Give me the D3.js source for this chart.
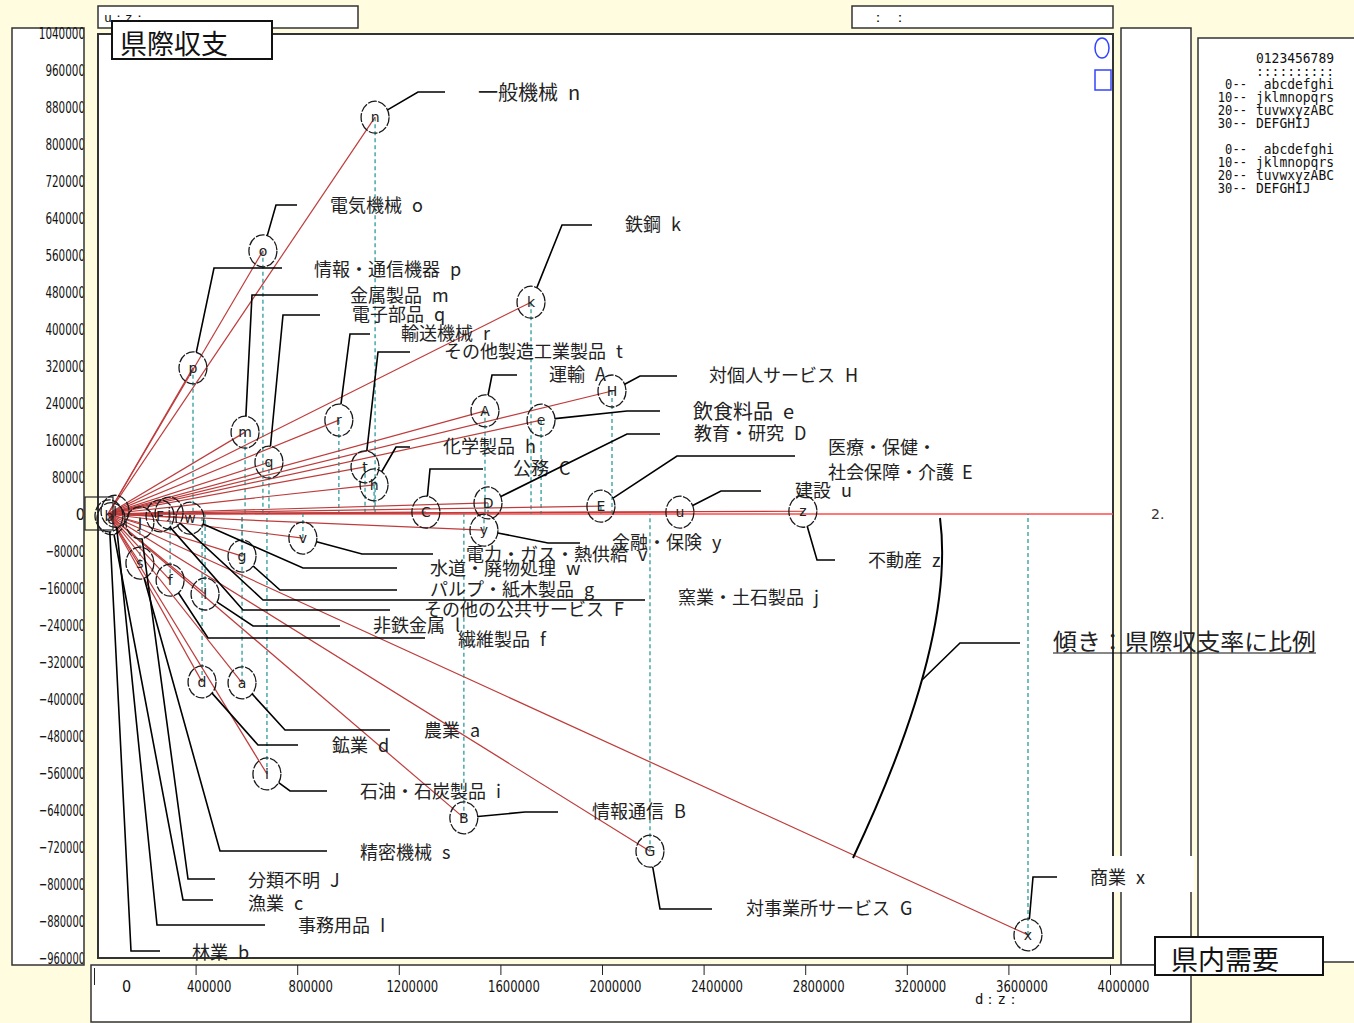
<!DOCTYPE html>
<html><head><meta charset="utf-8">
<script src="https://cdn.jsdelivr.net/npm/d3@7"></script>
<style>body{margin:0;background:#FFFCE0;} svg{display:block}</style>
</head><body><svg id="c" width="1354" height="1023"></svg>
<script>
// ---------- data ----------
const codes = ["a","b","c","d","e","f","g","h","i","j","k","l","m","n","o","p","q","r","s","t","u","v","w","x","y","z","A","B","C","D","E","F","G","H","I","J"];
const names = ["農業","林業","漁業","鉱業","飲食料品","繊維製品","パルプ・紙木製品","化学製品","石油・石炭製品","窯業・土石製品","鉄鋼","非鉄金属","金属製品","一般機械","電気機械","情報・通信機器","電子部品","輸送機械","精密機械","その他製造工業製品","建設","電力・ガス・熱供給","水道・廃物処理","商業","金融・保険","不動産","運輸","情報通信","公務","教育・研究","医療・保健・社会保障・介護","その他の公共サービス","対事業所サービス","対個人サービス","事務用品","分類不明"];
// 県内需要 (x)
const demand = [533000,4000,12000,374000,1722000,247000,533000,1058000,632000,243000,1682000,386000,545000,1062000,616000,338000,640000,918000,127000,1022000,2274000,775000,326000,3658000,1495000,2763000,1499000,1415000,1264000,1511000,1960000,207000,2155000,2004000,28000,127000];
// 県際収支 (y)
const balance = [-365000,-4000,-10000,-363000,203000,-143000,-91000,63000,-562000,2000,458000,-173000,177000,858000,569000,316000,112000,203000,-106000,102000,4000,-52000,-9000,-910000,-35000,6000,223000,-657000,4000,24000,17000,-4000,-729000,266000,6000,-19000];
const yTicks = d3.range(-960000, 1040001, 80000);
const xTicks = d3.range(0, 4000001, 400000);
const legendDigits = "0123456789";
const legendRows = [["0--","abcdefghi"],["10--","jklmnopqrs"],["20--","tuvwxyzABC"],["30--","DEFGHIJ"]];

// ---------- layout (label placement, pixels) ----------
// code: [bendX, bendY, segEndX, textX, textY]
const labelLayout = {
 n:[418,92,445,478,91], o:[276,205,297,330,204], p:[214,268,282,314,268], k:[562,225,592,625,223],
 m:[252,295,318,350,294], q:[283,315,320,352,313], r:[350,334,370,401,332], t:[378,352,410,444,350],
 h:[396,447,410,443,445], A:[492,375,517,549,373], H:[640,376,677,709,374], e:[627,411,660,693,410],
 D:[627,434,660,694,432], C:[430,469,483,513,467], E:[677,456,795,828,446], u:[721,491,761,795,489],
 z:[817,560,835,868,559], y:[548,543,580,612,541], v:[362,554,433,466,553], w:[303,568,397,430,567],
 g:[280,590,397,430,588], j:[263,600,645,678,596], F:[243,610,390,424,608], l:[253,626,340,373,624],
 f:[208,638,425,458,638], a:[285,730,390,424,729], d:[258,745,298,332,744], i:[290,791,327,360,790],
 B:[525,812,558,592,810], G:[660,909,712,746,907], x:[1033,877,1057,1090,876], s:[220,851,327,360,851],
 J:[188,879,215,248,879], c:[183,900,213,248,902], I:[157,925,265,298,924], b:[131,951,160,192,951]
};
const bigLabels = {n:20, e:20};

const svg = d3.select("#c");
const W=1354,H=1023;
svg.append("rect").attr("width",W).attr("height",H).attr("fill","#FFFCE0");

const panel=(x,y,w,h,sw=1.5)=>svg.append("rect").attr("x",x).attr("y",y).attr("width",w).attr("height",h)
  .attr("fill","#fff").attr("stroke","#333").attr("stroke-width",sw);

// panels
panel(12,28,72,937);            // y axis panel
panel(1121,28,70,937);          // right narrow
panel(1198,38,160,924);         // legend panel
panel(91,965,1100,57);          // x axis panel
panel(98,6,260,22);             // top-left box
panel(852,6,261,22);            // top-right box
panel(98,34,1015,924,2);        // main plot

const x = d3.scaleLinear().domain([0,4000000]).range([108,1114]);
const y = d3.scaleLinear().domain([-960000,1040000]).range([958,33]);
const xa = d3.scaleLinear().domain([0,4000000]).range([94,1110]);

const narrow = "'Liberation Sans Narrow', 'DejaVu Sans Condensed', sans-serif";
// y axis
svg.append("clipPath").attr("id","yclip").append("rect").attr("x",12).attr("y",20).attr("width",71.5).attr("height",950);
const yOuter = svg.append("g").attr("clip-path","url(#yclip)");
const yg = yOuter.append("g").attr("transform","translate(85,0)")
  .call(d3.axisLeft(y).tickValues(yTicks).tickSize(0).tickPadding(0).tickFormat(d3.format("d")));
yg.select(".domain").remove();
yg.selectAll("text").attr("font-family",narrow)
  .attr("font-size",16).attr("fill","#111").attr("x",0)
  .each(function(){const s=this.textContent; if(s.length>1) d3.select(this).attr("textLength",s.length*6.6).attr("lengthAdjust","spacingAndGlyphs");});

// x axis
const xg = svg.append("g").attr("transform","translate(0,965)")
  .call(d3.axisBottom(xa).tickValues(xTicks).tickSize(10).tickFormat(d3.format("d")));
xg.select(".domain").remove();
xg.selectAll(".tick line").attr("stroke","#222").attr("y1",d=>d===0?3:0).attr("y2",d=>d===0?20:10);
xg.selectAll("text").attr("font-family",narrow)
  .attr("font-size",16).attr("fill","#111").attr("y",21).attr("dy","0").attr("dominant-baseline","central")
  .attr("x",d=>d===0?32:13)
  .each(function(){const s=this.textContent; if(s.length>1) d3.select(this).attr("textLength",s.length*7.4).attr("lengthAdjust","spacingAndGlyphs");});
svg.append("text").attr("x",975).attr("y",999).attr("dominant-baseline","central").attr("font-family","'DejaVu Sans Mono',monospace")
  .attr("font-size",14).attr("fill","#111").text("d：z：");

// data objects
const pts = codes.map((c,i)=>({code:c,name:names[i],dx:demand[i],by:balance[i]}));

// zero line
svg.append("line").attr("x1",x(0)).attr("x2",1113).attr("y1",y(0)).attr("y2",y(0)).attr("stroke","#FF4A4A").attr("stroke-width",1.6);

// teal dashed drops
svg.append("g").selectAll("line").data(pts).join("line")
  .attr("x1",d=>x(d.dx)).attr("x2",d=>x(d.dx)).attr("y1",d=>y(d.by)).attr("y2",y(0))
  .attr("stroke","#2E9C9C").attr("stroke-width",1.3).attr("stroke-dasharray","4,3");

// red rays
svg.append("g").selectAll("line").data(pts).join("line")
  .attr("x1",x(0)).attr("y1",y(0)).attr("x2",d=>x(d.dx)).attr("y2",d=>y(d.by))
  .attr("stroke","#BE3C3C").attr("stroke-width",1.2);

// circles
const rx=14, ry=16;
const cg = svg.append("g").selectAll("g").data(pts).join("g").attr("transform",d=>`translate(${x(d.dx)},${y(d.by)})`);
cg.append("ellipse").attr("rx",rx).attr("ry",ry).attr("fill","none").attr("stroke","#1a1a1a").attr("stroke-width",1.3).attr("stroke-dasharray","9,1.5");
cg.append("text").attr("text-anchor","middle").attr("dominant-baseline","central").attr("font-family","'DejaVu Sans',sans-serif")
  .attr("font-size",14).attr("fill","#222").text(d=>d.code);

// leaders and labels
const lg = svg.append("g");
pts.forEach(d=>{
  const L = labelLayout[d.code]; if(!L) return;
  const cx=x(d.dx), cy=y(d.by);
  const ddx=L[0]-cx, ddy=L[1]-cy;
  const t=1/Math.sqrt((ddx/rx)**2+(ddy/ry)**2);
  const sx=cx+ddx*t, sy=cy+ddy*t;
  lg.append("polyline").attr("points",`${sx},${sy} ${L[0]},${L[1]} ${L[2]},${L[1]}`)
    .attr("fill","none").attr("stroke","#000").attr("stroke-width",1.6);
  const fs = bigLabels[d.code]||18;
  if(d.code==="E"){
    lg.append("text").attr("x",L[3]).attr("y",L[4]).attr("dominant-baseline","central").attr("font-family","'Noto Sans CJK JP',sans-serif")
      .attr("font-size",fs).attr("fill","#222").text("医療・保健・");
    const t2=lg.append("text").attr("x",L[3]).attr("y",L[4]+25).attr("dominant-baseline","central").attr("font-family","'Noto Sans CJK JP',sans-serif")
      .attr("font-size",fs).attr("fill","#222").text("社会保障・介護");
    t2.append("tspan").attr("dx",8).text(d.code);
  } else {
    const tx=lg.append("text").attr("x",L[3]).attr("y",L[4]).attr("dominant-baseline","central").attr("font-family","'Noto Sans CJK JP',sans-serif")
      .attr("font-size",fs).attr("fill","#222").text(d.name);
    tx.append("tspan").attr("dx",10).text(d.code);
  }
});

// slope curve + label
svg.append("path").attr("d","M940,518 Q956,640 853,858").attr("fill","none").attr("stroke","#000").attr("stroke-width",2);
svg.append("polyline").attr("points","922,680 960,643 1020,643").attr("fill","none").attr("stroke","#000").attr("stroke-width",1.6);
svg.append("text").attr("x",1053).attr("y",640).attr("dominant-baseline","central").attr("font-family","'Noto Sans CJK JP',sans-serif")
  .attr("font-size",23).attr("fill","#222").attr("textLength",263).attr("lengthAdjust","spacingAndGlyphs").text("傾き：県際収支率に比例");
svg.append("line").attr("x1",1053).attr("x2",1316).attr("y1",653).attr("y2",653).attr("stroke","#111").attr("stroke-width",1.2);

// small rect near origin
svg.append("rect").attr("x",85).attr("y",497).attr("width",28).attr("height",33).attr("fill","none").attr("stroke","#222").attr("stroke-width",1.2);

// right narrow panel text
svg.append("text").attr("x",1151).attr("y",514).attr("dominant-baseline","central").attr("font-family","'DejaVu Sans',sans-serif")
  .attr("font-size",14).attr("fill","#333").text("2.");

// top boxes text
svg.append("text").attr("x",104).attr("y",17).attr("dominant-baseline","central").attr("font-family","'DejaVu Sans Mono',monospace")
  .attr("font-size",13).attr("fill","#111").text("u：z：");
svg.append("text").attr("x",871).attr("y",17).attr("dominant-baseline","central").attr("font-family","'DejaVu Sans Mono',monospace")
  .attr("font-size",14).attr("fill","#111").text("：   ：");

// title boxes
svg.append("rect").attr("x",112).attr("y",21).attr("width",160).attr("height",38).attr("fill","#fff").attr("stroke","#111").attr("stroke-width",2);
svg.append("text").attr("x",120).attr("y",42).attr("dominant-baseline","central").attr("font-family","'Noto Sans CJK JP',sans-serif")
  .attr("font-size",27).attr("fill","#111").text("県際収支");
svg.append("rect").attr("x",1155).attr("y",937).attr("width",168).attr("height",38).attr("fill","#fff").attr("stroke","#111").attr("stroke-width",2);
svg.append("text").attr("x",1171).attr("y",958).attr("dominant-baseline","central").attr("font-family","'Noto Sans CJK JP',sans-serif")
  .attr("font-size",27).attr("fill","#111").text("県内需要");

// blue symbols
svg.append("ellipse").attr("cx",1102).attr("cy",48).attr("rx",7).attr("ry",10).attr("fill","none").attr("stroke","#3344FF").attr("stroke-width",1.5);
svg.append("rect").attr("x",1095).attr("y",70).attr("width",16).attr("height",20).attr("fill","none").attr("stroke","#3344FF").attr("stroke-width",1.5);

// legend
const lf="'DejaVu Sans Mono',monospace";
const legend = svg.append("g").attr("font-family",lf).attr("font-size",14.5).attr("fill","#111");
legend.append("text").attr("x",1256).attr("y",58).attr("dominant-baseline","central").attr("textLength",78).attr("lengthAdjust","spacingAndGlyphs").text(legendDigits);
legend.append("text").attr("x",1256).attr("y",71).attr("dominant-baseline","central").attr("textLength",78).attr("lengthAdjust","spacingAndGlyphs").text(legendDigits.replace(/./g,":"));
[84,149].forEach(y0=>{
  legendRows.forEach((r,i)=>{
    legend.append("text").attr("x",1247).attr("y",y0+i*13).attr("dominant-baseline","central").attr("text-anchor","end")
      .attr("textLength",r[0].length*7.3).attr("lengthAdjust","spacingAndGlyphs").text(r[0]);
    const off = i===0?1:0;
    legend.append("text").attr("x",1256+off*7.8).attr("y",y0+i*13).attr("dominant-baseline","central")
      .attr("textLength",r[1].length*7.8).attr("lengthAdjust","spacingAndGlyphs").text(r[1]);
  });
});

// 商業 label white bg redraw
svg.append("rect").attr("x",1084).attr("y",856).attr("width",110).attr("height",36).attr("fill","#fff");
svg.append("text").attr("x",1090).attr("y",876).attr("dominant-baseline","central").attr("font-family","'Noto Sans CJK JP',sans-serif")
  .attr("font-size",18).attr("fill","#222").text("商業").append("tspan").attr("dx",10).text("x");
</script></body></html>
